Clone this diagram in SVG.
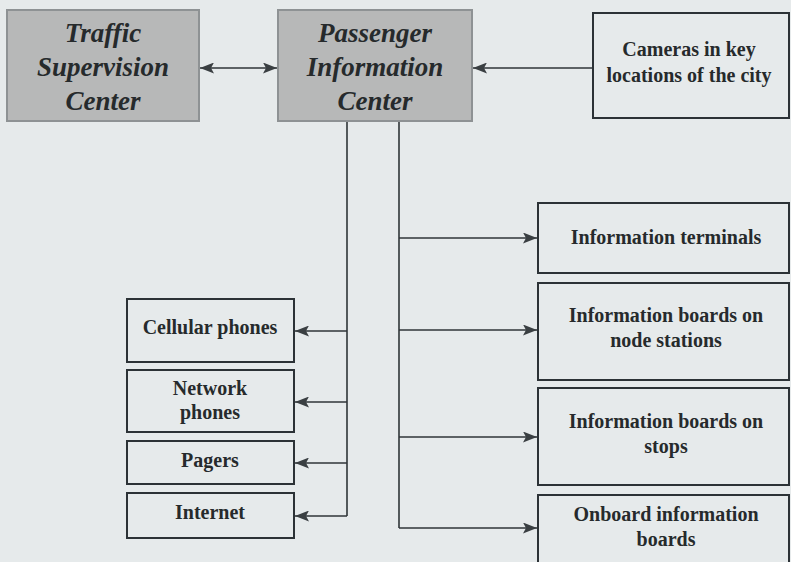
<svg xmlns="http://www.w3.org/2000/svg" width="791" height="562" viewBox="0 0 791 562">
<defs>
<marker id="ah" viewBox="0 0 14 11" refX="14" refY="5.5" markerWidth="14" markerHeight="11" markerUnits="userSpaceOnUse" orient="auto-start-reverse">
<path d="M0,0 L14,5.5 L0,11 L3,5.5 Z" fill="#3a3f42"/>
</marker>
<style>
.bg{fill:#e6eaeb}
.center{fill:#b7b8b8;stroke:#8e9294;stroke-width:2}
.box{fill:#e6eaeb;stroke:#2c3236;stroke-width:2}
.title{font-family:"Liberation Serif","Times New Roman",serif;font-style:italic;font-weight:bold;font-size:27px;fill:#262a2c;text-anchor:middle}
.lbl{font-family:"Liberation Serif","Times New Roman",serif;font-weight:bold;font-size:20px;fill:#262a2c;text-anchor:middle}
.conn{fill:none;stroke:#2f3538;stroke-width:1.6}
</style>
</defs>
<rect class="bg" x="0" y="0" width="791" height="562"/>
<g id="connectors">
<line class="conn" x1="200" y1="68" x2="277" y2="68" marker-start="url(#ah)" marker-end="url(#ah)"/>
<line class="conn" x1="593" y1="68" x2="473" y2="68" marker-end="url(#ah)"/>
<polyline class="conn" points="347,122 347,516"/>
<polyline class="conn" points="399,122 399,528"/>
<line class="conn" x1="347" y1="331" x2="295" y2="331" marker-end="url(#ah)"/>
<line class="conn" x1="347" y1="402" x2="295" y2="402" marker-end="url(#ah)"/>
<line class="conn" x1="347" y1="463" x2="295" y2="463" marker-end="url(#ah)"/>
<line class="conn" x1="347" y1="516" x2="295" y2="516" marker-end="url(#ah)"/>
<line class="conn" x1="399" y1="238" x2="537" y2="238" marker-end="url(#ah)"/>
<line class="conn" x1="399" y1="330" x2="537" y2="330" marker-end="url(#ah)"/>
<line class="conn" x1="399" y1="437" x2="537" y2="437" marker-end="url(#ah)"/>
<line class="conn" x1="399" y1="528" x2="537" y2="528" marker-end="url(#ah)"/>
</g>
<g id="traffic-supervision-center">
<rect class="center" x="7" y="10" width="192" height="111"/>
<text class="title" x="103" y="42">Traffic</text>
<text class="title" x="103" y="76">Supervision</text>
<text class="title" x="103" y="110">Center</text>
</g>
<g id="passenger-information-center">
<rect class="center" x="278" y="10" width="194" height="111"/>
<text class="title" x="375" y="42">Passenger</text>
<text class="title" x="375" y="76">Information</text>
<text class="title" x="375" y="110">Center</text>
</g>
<g id="cameras">
<rect class="box" x="593" y="13" width="196" height="105"/>
<text class="lbl" x="689" y="56">Cameras in key</text>
<text class="lbl" x="689" y="82">locations of the city</text>
</g>
<g id="cellular-phones">
<rect class="box" x="127" y="299" width="167" height="63"/>
<text class="lbl" x="210" y="334">Cellular phones</text>
</g>
<g id="network-phones">
<rect class="box" x="127" y="370" width="167" height="62"/>
<text class="lbl" x="210" y="395">Network</text>
<text class="lbl" x="210" y="419">phones</text>
</g>
<g id="pagers">
<rect class="box" x="127" y="441" width="167" height="43"/>
<text class="lbl" x="210" y="467">Pagers</text>
</g>
<g id="internet">
<rect class="box" x="127" y="493" width="167" height="45"/>
<text class="lbl" x="210" y="519">Internet</text>
</g>
<g id="information-terminals">
<rect class="box" x="538" y="203" width="251" height="70"/>
<text class="lbl" x="666" y="244">Information terminals</text>
</g>
<g id="boards-node-stations">
<rect class="box" x="538" y="283" width="251" height="97"/>
<text class="lbl" x="666" y="322">Information boards on</text>
<text class="lbl" x="666" y="347">node stations</text>
</g>
<g id="boards-stops">
<rect class="box" x="538" y="388" width="251" height="97"/>
<text class="lbl" x="666" y="428">Information boards on</text>
<text class="lbl" x="666" y="453">stops</text>
</g>
<g id="onboard-boards">
<rect class="box" x="538" y="495" width="251" height="80"/>
<text class="lbl" x="666" y="521">Onboard information</text>
<text class="lbl" x="666" y="546">boards</text>
</g>
</svg>
